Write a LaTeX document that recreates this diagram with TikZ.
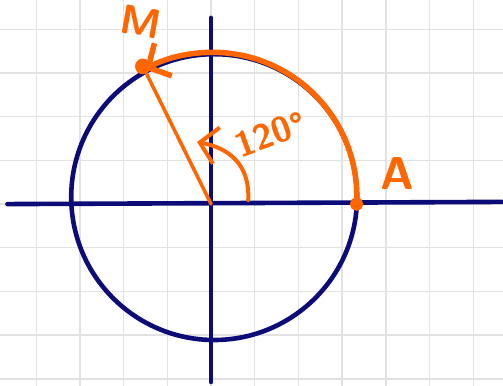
\documentclass[tikz,border=0pt]{standalone}
\usetikzlibrary{arrows.meta}

\definecolor{navy}{RGB}{12,12,120}
\definecolor{marker}{RGB}{255,102,0}
\definecolor{gridgray}{RGB}{226,226,226}

\begin{document}
\begin{tikzpicture}[
      axis/.style={draw=navy, line width=3pt, line cap=round},
      pen/.style={draw=marker, line width=2.3pt, line cap=round, line join=round},
      hand/.style={text=marker, font=\sffamily\bfseries, inner sep=0pt},
      >={Straight Barb[length=11pt, width=24pt]},
    ]
    \useasboundingbox (-4.83,-4.16) rectangle (6.68,4.67);
    \draw[gridgray, line width=0.9pt] (-4.83,-4.16) grid (6.68,4.67);

    \coordinate (O) at (0,0);
    \coordinate (C) at (0.07,0.16);
    \coordinate (xl) at (-4.66,0);
    \coordinate (xr) at (6.65,0.05);
    \coordinate (yt) at (0,4.26);
    \coordinate (yb) at (0,-4.07);
    \coordinate (A) at (3.33,0);
    \coordinate (M) at (-1.56,3.15);

    % axes and unit circle
    \draw[axis] (xl) -- (xr);
    \draw[axis] (yt) -- (yb);
    \draw[axis] (C) circle (3.27);

    % rotation from A to M
    \draw[pen, line width=3.6pt, ->] (A) arc[start angle=-3, end angle=118, radius=3.3];
    \draw[pen] (O) -- (M);
    \fill[marker] (M) circle (0.18);
    \draw[marker, line width=2.4pt] (A) circle (0.11);

    % angle mark
    \draw[pen, line width=2.6pt, ->] (0.85,0.09) .. controls (0.89,0.89) and (0.43,1.28) .. (-0.32,1.42);

    \node[hand, font=\sffamily\bfseries\fontsize{27}{27}\selectfont, rotate=-10] (lM) at (-1.60,4.18) {M};
    \node[hand, font=\sffamily\bfseries\fontsize{30}{30}\selectfont] (lA) at (4.26,0.70) {A};
    \node[hand, font=\sffamily\bfseries\fontsize{23}{23}\selectfont, rotate=20] (ang) at (1.36,1.60) {120°};
\end{tikzpicture}
\end{document}
